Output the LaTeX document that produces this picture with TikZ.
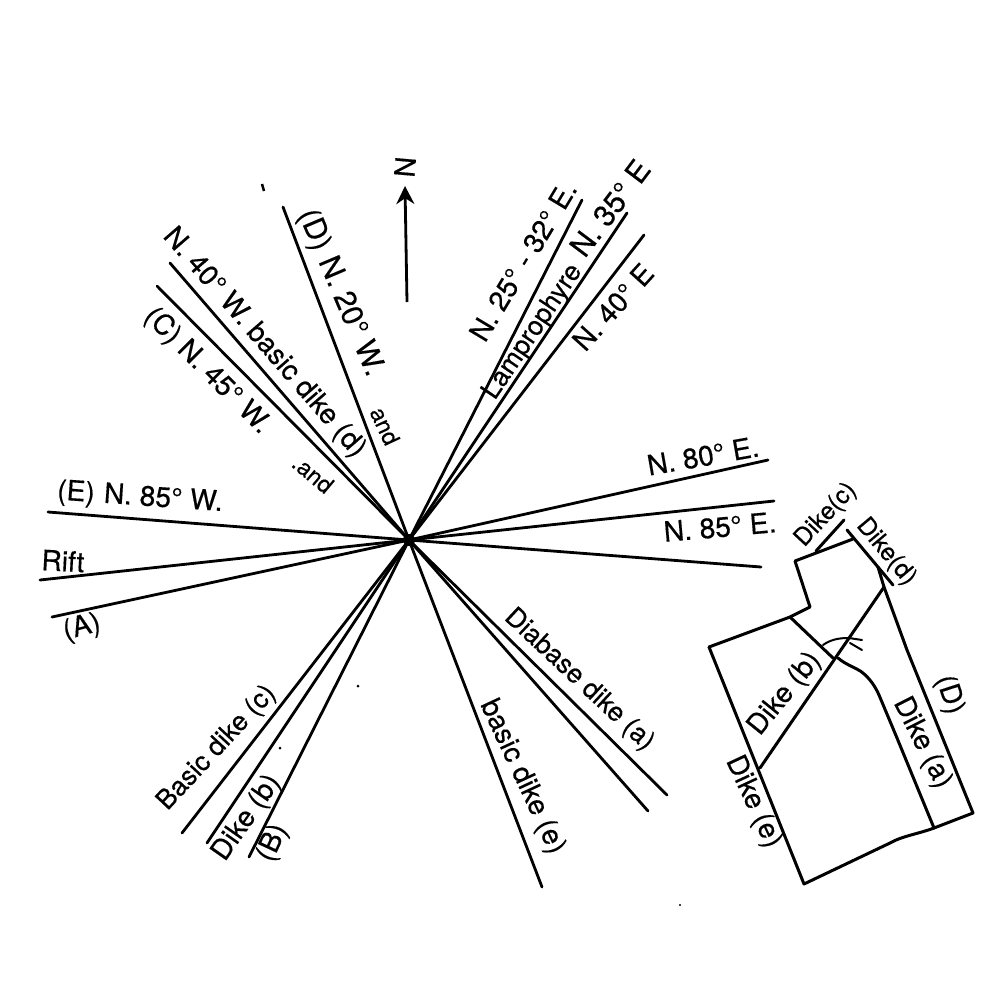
\documentclass[tikz,border=0pt]{standalone}
\usepackage{fontspec}
\setmainfont[FakeBold=0.4]{TeX Gyre Heros}
\usetikzlibrary{arrows.meta}
\tikzset{
  ray/.style={line width=0.28mm,line cap=round},
  geo/.style={line width=0.3mm,line join=round,line cap=round},
  lab/.style={inner sep=0pt,font=\fontsize{8}{9}\selectfont},
  lablow/.style={inner sep=0pt,font=\fontsize{7.6}{9}\selectfont},
  labbig/.style={inner sep=0pt,font=\fontsize{8.5}{9}\selectfont},
  smalllab/.style={inner sep=0pt,font=\fontsize{6.6}{8}\selectfont},
  insetlab/.style={inner sep=0pt,font=\fontsize{7}{8}\selectfont},
  fine/.style={line width=0.2mm,line cap=round},
}
\begin{document}
\begin{tikzpicture}[x=0.01cm,y=-0.01cm]
\useasboundingbox (0,0) rectangle (1000,1000);
\fill[white] (0,0) rectangle (1000,1000);
\coordinate (O) at (409,540);
\foreach \n/\x/\y in {dD/283/207,dd/170/263,dC/157/286,dE/48/512,dR/40/580,dA/52/617,
  dc/182/833,db/207/843,dB/249/857,de/542/887,da/648/811,dx/667/795,dy/761/567,
  e85/774/501,e80/768/460,e40/644/235,e35/627/213,e25/582/200}
  {\coordinate (\n) at (\x,\y); \draw[ray] (O) -- (\n);}
\fill (O) circle (6);
% north arrow
\coordinate (Na) at (407,302);
\coordinate (Nb) at (405,186);
\draw[line width=0.28mm,-{Stealth[length=1.8mm,width=1.8mm]}] (Na) -- (Nb);
\node[lab,rotate=85] (N) at (405,167) {N};
% labels of the rose
\node[labbig,rotate=-67] (l1) at (340,293) {(D)\,\,N. 20° W.};
\node[smalllab,rotate=-65] (l2) at (385,426) {and};
\node[lab,rotate=-49] (l3) at (264,343) {N. 40° W. basic dike (d)};
\node[lab,rotate=-45] (l4) at (207,371) {(C) N. 45° W.};
\node[smalllab,rotate=-40] (l5) at (313,474) {.and};
\node[lab,rotate=-4] (l6) at (140,498) {(E)\,\,N. 85° W.};
\node[lab,rotate=-3] (l7) at (63,561) {Rift};
\node[lab,rotate=15] (l8) at (82,628) {(A)};
\node[lablow,rotate=47] (l9) at (217,748) {Basic dike (c)};
\node[lab,rotate=55] (l10) at (247,818) {Dike (b)};
\node[lab,rotate=65] (l11) at (273,843) {(B)};
\node[lab,rotate=-65] (l12) at (522,777) {basic dike (e)};
\node[lablow,rotate=-43] (l13) at (579,680) {Diabase dike (a)};
\node[lab,rotate=5] (l14) at (720,527) {N. 85° E.};
\node[lab,rotate=10] (l15) at (703,456) {N. 80° E.};
\node[lab,rotate=48] (l16) at (613,307) {N. 40° E};
\node[lablow,rotate=56] (l17a) at (533,332) {Lamprophyre};
\node[labbig,rotate=53] (l17b) at (610,208) {N. 35° E};
\node[lab,rotate=59] (l18) at (523,261) {N. 25° - 32° E.};
% inset map
\coordinate (p1) at (709,647);
\coordinate (p2) at (790,617);
\coordinate (p3) at (810,607);
\coordinate (p4) at (795,561);
\coordinate (p5) at (853,539);
\coordinate (p6) at (884,587);
\coordinate (p7) at (907,650);
\coordinate (p8) at (973,813);
\coordinate (p9) at (934,828);
\coordinate (p10) at (890,843);
\coordinate (p11) at (804,884);
\coordinate (b2) at (760,768);
\coordinate (d1) at (847,530);
\coordinate (d2) at (893,585);
\coordinate (c1) at (844,520);
\coordinate (c2) at (816,551);
\coordinate (j) at (833,658);
\draw[geo] (p1) -- (p2) -- (p3) -- (p4) -- (p5);
\draw[geo] (d1) -- (d2);
\draw[geo] (878,567) -- (p6) -- (p7) -- (p8) -- (p9) .. controls (918,834) and (902,836) .. (p10) -- (p11) -- (p1);
\draw[geo] (p6) -- (b2);
\draw[geo] (c1) -- (c2);
\draw[geo] (p2) -- (j);
\draw[geo] (838,658) .. controls (846,665) and (857,668) .. (863,673)
  .. controls (870,679) and (875,686) .. (879,695) -- (897,738) -- (p9);
\draw[fine] (823,645) .. controls (830,640) and (838,638) .. (848,638);
\draw[fine] (849,638) -- (862,640);
\draw[fine] (850,643) -- (862,650);
\node[insetlab,rotate=47] (i1) at (826,515) {Dike(c)};
\node[insetlab,rotate=-50] (i2) at (886,552) {Dike(d)};
\node[lab,rotate=-72] (i3) at (949,695) {(D)};
\node[lab,rotate=-63] (i4) at (922,743) {Dike (a)};
\node[lab,rotate=-65] (i5) at (753,802) {Dike (e)};
\node[lab,rotate=51] (i6) at (785,694) {Dike (b)};
% specks
\draw[line width=0.25mm] (262,184) -- (264,191);
\fill (680,905) circle (1.2);
\fill (358,686) circle (1.5);
\fill (280,748) circle (1.5);
\end{tikzpicture}
\end{document}
